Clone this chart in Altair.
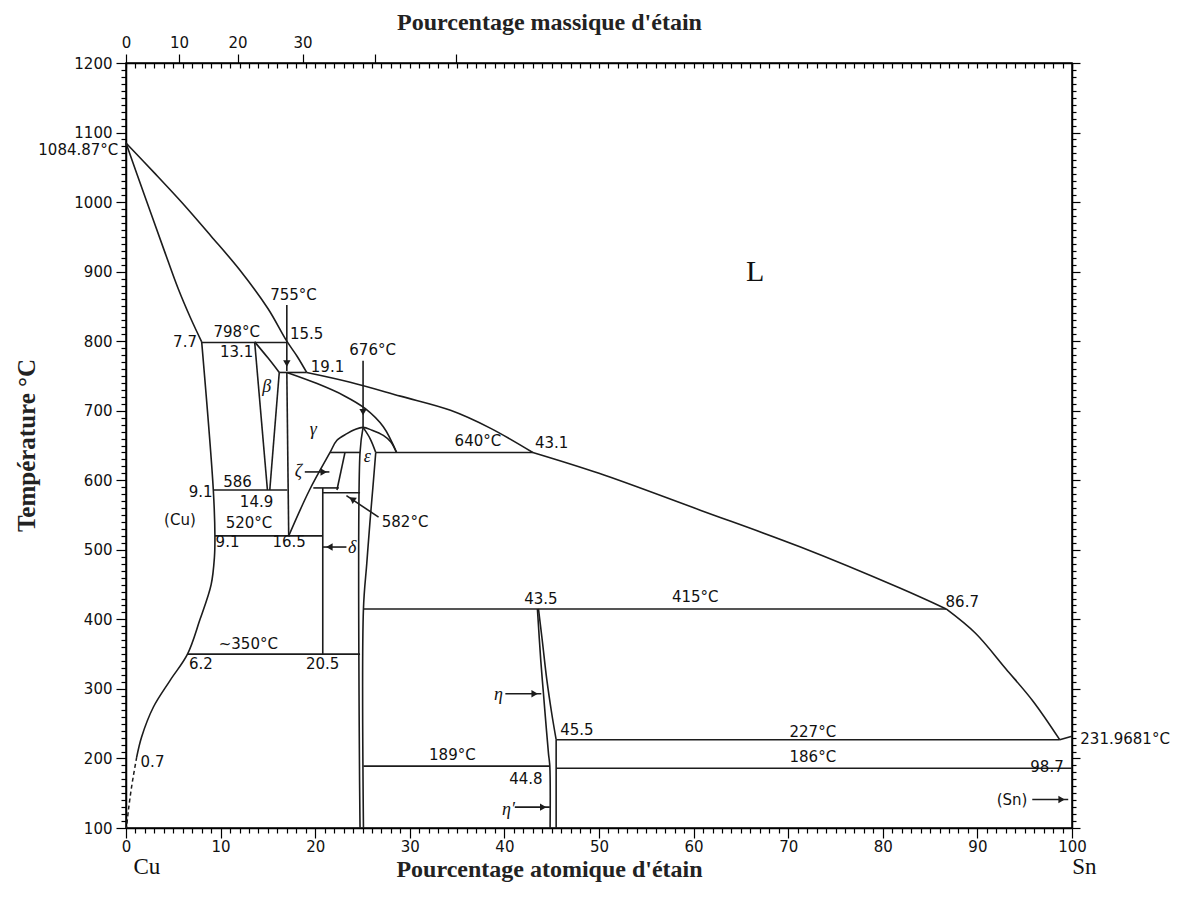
import altair as alt
import pandas as pd

# ---------------- phase boundaries (x = at.% Sn, t = °C) ----------------
liq_a_x = [0, 3, 6, 9, 12.05, 15.0, 17.0, 18.1, 19.1]
liq_a_t = [1084.87, 1042, 998, 951, 902, 847, 800, 778, 755]
liq_b_x = [19.1, 23.7, 29.0, 34.3, 38.5, 43.0]
liq_b_t = [755, 741, 721, 700.6, 675, 640]
liq_c_x = [43.0, 50.0, 60.7, 71.3, 81.8, 86.7]
liq_c_t = [640, 610, 557, 504, 445, 415]
liq_d_x = [86.7, 89.8, 93.0, 95.9, 98.7]
liq_d_t = [415, 380, 329, 282, 227]
liq_e_x = [98.7, 100]
liq_e_t = [227, 231.97]
sol_cu_x = [0, 2, 4, 5.5, 6.8, 8.0]
sol_cu_t = [1084.87, 1008, 932, 876, 834, 799]
solv_cu_x = [8.0, 9.23, 9.4, 9.35, 9.0, 7.8, 6.5, 4.65, 2.9, 1.65, 1.13]
solv_cu_t = [799, 586, 520, 490, 450, 399, 350, 312, 274, 231, 202]
solv_dash_x = [1.13, 0.6, 0.25, 0.05]
solv_dash_t = [202, 160, 125, 100]
beta_left_x = [13.6, 14.95]
beta_left_t = [799, 586]
beta_top_x = [13.6, 15.0, 16.2]
beta_top_t = [799, 776, 755]
beta_right_x = [16.2, 15.2]
beta_right_t = [755, 586]
gamma_left_x = [17.0, 17.2]
gamma_left_t = [755, 520]
gamma_sol_x = [17.0, 20.2, 23.0, 25.3, 27.2, 28.6]
gamma_sol_t = [755, 739, 722, 703, 677, 640]
dome_x = [17.2, 19.4, 21.57, 22.3, 23.35, 24.2, 25.06, 26.0, 27.2, 28.0, 28.6]
dome_t = [520, 586, 640, 657.5, 667, 673, 676, 672, 664.5, 655, 640]
eps_left_x = [25.06, 24.74, 24.74]
eps_left_t = [676, 640, 100]
eps_rtop_x = [25.06, 25.8, 26.4]
eps_rtop_t = [676, 660, 640]
eps_right_x = [26.4, 26.1, 25.8, 25.45, 25.1, 25.1]
eps_right_t = [640, 590, 542, 480, 415, 100]
zeta_right_x = [23.15, 22.3]
zeta_right_t = [640, 586]
delta_x = [20.8, 20.8]
delta_t = [589, 350]
eta_left_x = [43.49, 43.85, 44.13, 44.45, 44.66, 44.8, 44.83]
eta_left_t = [415, 340, 293, 240, 207, 189, 100]
eta_right_x = [43.6, 44.0, 44.49, 45.0, 45.47]
eta_right_t = [415, 370, 312.5, 265, 227]
eta_v_x = [45.47, 45.47]
eta_v_t = [227, 100]

# invariant (horizontal) lines
iso_t = [798, 755, 586, 520, 350, 640, 640, 582, 589, 415, 227, 189, 186]
iso_x0 = [8.0, 16.2, 9.23, 9.4, 6.5, 21.57, 26.4, 20.8, 19.8, 25.1, 45.47, 25.1, 45.47]
iso_x1 = [17.0, 19.1, 17.05, 20.8, 24.74, 24.74, 43.0, 24.74, 22.5, 86.7, 98.7, 44.8, 100]

# arrows
arr_x0 = [17.0, 25.06, 26.7, 18.9, 23.3, 40.1, 41.1, 95.8]
arr_t0 = [852, 772, 547, 612, 504, 293, 130, 141]
arr_x1 = [17.0, 25.06, 23.3, 21.5, 20.8, 43.9, 44.8, 99.6]
arr_t1 = [757, 676, 578, 612, 504, 293, 130, 141]
head_x = [17.0, 25.06, 23.9, 20.9, 21.5, 43.2, 44.1, 98.9]
head_t = [768, 698, 573, 612, 504, 293, 130, 141]
head_angle = [180, 180, 304, 90, 270, 90, 90, 90]

# labels (centred)
lab_text = ["755°C", "798°C", "15.5", "13.1", "19.1", "676°C", "640°C", "43.1", "586",
            "9.1", "14.9", "(Cu)", "520°C", "582°C", "9.1", "16.5", "43.5", "415°C",
            "86.7", "~350°C", "6.2", "20.5", "0.7", "45.5", "44.8", "189°C", "227°C",
            "186°C", "98.7", "(Sn)"]
lab_x = [17.7, 11.7, 19.1, 11.7, 21.3, 26.07, 37.2, 45.0, 11.79,
         7.9, 13.8, 5.7, 13.0, 29.5, 10.73, 17.24, 43.86, 60.17,
         88.4, 12.93, 7.91, 20.78, 2.8, 47.66, 42.28, 34.5, 72.6,
         72.6, 97.36, 93.66]
lab_t = [866, 813, 811, 784.5, 763, 787, 657, 653, 597.6,
         583, 569, 542.5, 538, 540, 511.3, 511.3, 430, 432,
         425, 365, 336.4, 336.4, 195, 240.5, 171, 204.6, 237.7,
         201.7, 188.2, 140]
# labels right / left aligned
labr_text = ["1084.87°C", "7.7"]
labr_x = [-0.81, 7.5]
labr_t = [1074.5, 799]
labl_text = ["231.9681°C"]
labl_x = [100.88]
labl_t = [228.6]
# phase names
greek_text = ["β", "γ", "ε", "ζ", "δ", "η", "η′"]
greek_x = [14.88, 19.8, 25.5, 18.22, 23.9, 39.37, 40.43]
greek_t = [734, 672, 633.5, 612, 502, 291, 125.5]
big_text = ["L", "Cu", "Sn"]
big_x = [66.5, 2.2, 101.3]
big_t = [899, 44, 44]
big_size = [30, 23, 23]

# top axis: weight % Sn ticks placed at their at.% positions
wt_labels = [0, 10, 20, 30, 40, 50]
wt_at_pos = [0, 5.61, 11.80, 18.66, 26.30, 34.87]
wt_shown = [True, True, True, True, False, False]

# ---------------- build tables ----------------
segments = {
    "liq_a": (liq_a_x, liq_a_t), "liq_b": (liq_b_x, liq_b_t), "liq_c": (liq_c_x, liq_c_t),
    "liq_d": (liq_d_x, liq_d_t), "liq_e": (liq_e_x, liq_e_t), "sol_cu": (sol_cu_x, sol_cu_t),
    "solv_cu": (solv_cu_x, solv_cu_t), "beta_left": (beta_left_x, beta_left_t),
    "beta_top": (beta_top_x, beta_top_t), "beta_right": (beta_right_x, beta_right_t),
    "gamma_left": (gamma_left_x, gamma_left_t), "gamma_sol": (gamma_sol_x, gamma_sol_t),
    "dome": (dome_x, dome_t), "eps_left": (eps_left_x, eps_left_t),
    "eps_rtop": (eps_rtop_x, eps_rtop_t), "eps_right": (eps_right_x, eps_right_t),
    "zeta_right": (zeta_right_x, zeta_right_t), "delta": (delta_x, delta_t),
    "eta_left": (eta_left_x, eta_left_t), "eta_right": (eta_right_x, eta_right_t),
    "eta_v": (eta_v_x, eta_v_t),
}
for k, (tt, a, b) in enumerate(zip(iso_t, iso_x0, iso_x1)):
    segments[f"iso{k}"] = ([a, b], [tt, tt])
for k in range(len(arr_x0)):
    segments[f"arr{k}"] = ([arr_x0[k], arr_x1[k]], [arr_t0[k], arr_t1[k]])

rows = []
for name, (xs_, ts_) in segments.items():
    for i, (a, b) in enumerate(zip(xs_, ts_)):
        rows.append({"seg": name, "i": i, "x": a, "t": b})
lines_df = pd.DataFrame(rows)
dash_df = pd.DataFrame({"x": solv_dash_x, "t": solv_dash_t, "i": range(len(solv_dash_x))})
heads_df = pd.DataFrame({"x": head_x, "t": head_t, "a": head_angle})
lab_df = pd.DataFrame({"txt": lab_text, "x": lab_x, "t": lab_t})
labr_df = pd.DataFrame({"txt": labr_text, "x": labr_x, "t": labr_t})
labl_df = pd.DataFrame({"txt": labl_text, "x": labl_x, "t": labl_t})
greek_df = pd.DataFrame({"txt": greek_text, "x": greek_x, "t": greek_t})
big_df = pd.DataFrame({"txt": big_text, "x": big_x, "t": big_t, "s": big_size})
frame_df = pd.DataFrame({"x": [0, 100], "t": [100, 1200]})

W, H = 946, 765
xs = alt.Scale(domain=[0, 100], nice=False, zero=False)
ys = alt.Scale(domain=[100, 1200], nice=False, zero=False)
INK = "#1c1c1c"

def X(axis=None):
    return alt.X("x:Q", scale=xs, axis=axis)

def Y(axis=None):
    return alt.Y("t:Q", scale=ys, axis=axis)

bottom_axis = alt.Axis(
    orient="bottom", values=list(range(0, 101)), format="d",
    labelExpr="datum.value % 10 === 0 ? datum.label : ''",
    tickSize={"condition": {"test": "datum.value % 10 === 0", "value": 10}, "value": 5},
    labelOverlap=False, labelFlush=False, labelPadding=1,
    title="Pourcentage atomique d'étain", titleFont="Liberation Serif", titleFontSize=24,
    titleFontWeight="bold", titleX=423, titleY=41, titleAlign="center",
    titleBaseline="middle", titleColor="#222")
left_axis = alt.Axis(
    orient="left", values=list(range(100, 1201, 10)), format="d",
    labelExpr="datum.value % 100 === 0 ? datum.label : ''",
    tickSize={"condition": {"test": "datum.value % 100 === 0", "value": 10}, "value": 5},
    labelOverlap=False, labelFlush=False, labelPadding=4,
    title="Température °C", titleFont="Liberation Serif", titleFontSize=25,
    titleFontWeight="bold", titleAngle=270, titleX=-100, titleY=382,
    titleAlign="center", titleBaseline="middle", titleColor="#222")
right_axis = alt.Axis(
    orient="right", values=list(range(100, 1201, 10)), labels=False, title=None,
    tickSize={"condition": {"test": "datum.value % 100 === 0", "value": 8}, "value": 4})

wt_expr = " : ".join(
    f"abs(datum.value - {p}) < 0.01 ? '{lab if show else ''}'"
    for p, lab, show in zip(wt_at_pos, wt_labels, wt_shown)) + " : ''"
top_axis = alt.Axis(
    orient="top", values=wt_at_pos, labelExpr=wt_expr, tickSize=9,
    labelOverlap=False, labelFlush=False, labelPadding=4,
    title="Pourcentage massique d'étain", titleFont="Liberation Serif", titleFontSize=24,
    titleFontWeight="bold", titleX=423, titleY=-41, titleAlign="center",
    titleBaseline="middle", titleColor="#222")
top_minor_axis = alt.Axis(
    orient="bottom", offset=-H, values=list(range(0, 101)), labels=False, title=None,
    domain=False, tickSize=5)

lines = alt.Chart(lines_df).mark_line(
    color=INK, strokeWidth=1.6, interpolate="catmull-rom").encode(
    x=X(bottom_axis), y=Y(left_axis), detail="seg:N", order="i:Q")
dashed = alt.Chart(dash_df).mark_line(
    color=INK, strokeWidth=1.5, strokeDash=[4, 3], interpolate="catmull-rom").encode(
    x=X(), y=Y(), order="i:Q")
heads = alt.Chart(heads_df).mark_point(
    shape="triangle-up", filled=True, color=INK, size=55, opacity=1).encode(
    x=X(), y=Y(), angle=alt.Angle("a:Q", scale=None))
txt_c = alt.Chart(lab_df).mark_text(
    font="DejaVu Sans", fontSize=15, color="#111", align="center", baseline="middle").encode(
    x=X(), y=Y(), text="txt:N")
txt_r = alt.Chart(labr_df).mark_text(
    font="DejaVu Sans", fontSize=15, color="#111", align="right", baseline="middle").encode(
    x=X(), y=Y(), text="txt:N")
txt_l = alt.Chart(labl_df).mark_text(
    font="DejaVu Sans", fontSize=15, color="#111", align="left", baseline="middle").encode(
    x=X(), y=Y(), text="txt:N")
greek = alt.Chart(greek_df).mark_text(
    font="Liberation Serif", fontSize=18, fontStyle="italic", color="#111",
    align="center", baseline="middle").encode(x=X(), y=Y(), text="txt:N")
big = alt.Chart(big_df).mark_text(
    font="Liberation Serif", color="#111", align="center", baseline="middle").encode(
    x=X(), y=Y(), text="txt:N", size=alt.Size("s:Q", scale=None, legend=None))
frame_a = alt.Chart(frame_df).mark_point(opacity=0).encode(
    x=X(top_axis), y=Y(right_axis))
frame_b = alt.Chart(frame_df).mark_point(opacity=0).encode(
    x=X(top_minor_axis), y=Y())

chart = alt.layer(
    lines, dashed, heads, txt_c, txt_r, txt_l, greek, big, frame_a, frame_b
).resolve_axis(x="independent", y="independent").properties(
    width=W, height=H,
    autosize=alt.AutoSizeParams(type="none"),
    padding={"left": 118, "top": 55, "right": 104, "bottom": 80},
    background="white",
).configure_view(stroke="black", strokeWidth=1.5).configure_axis(
    labelFont="DejaVu Sans", labelFontSize=15, labelColor="#111",
    tickColor="black", tickWidth=1.2, domainColor="black", domainWidth=1.5, grid=False)

chart.save("out.html", embed_options={"renderer": "svg", "actions": False})
